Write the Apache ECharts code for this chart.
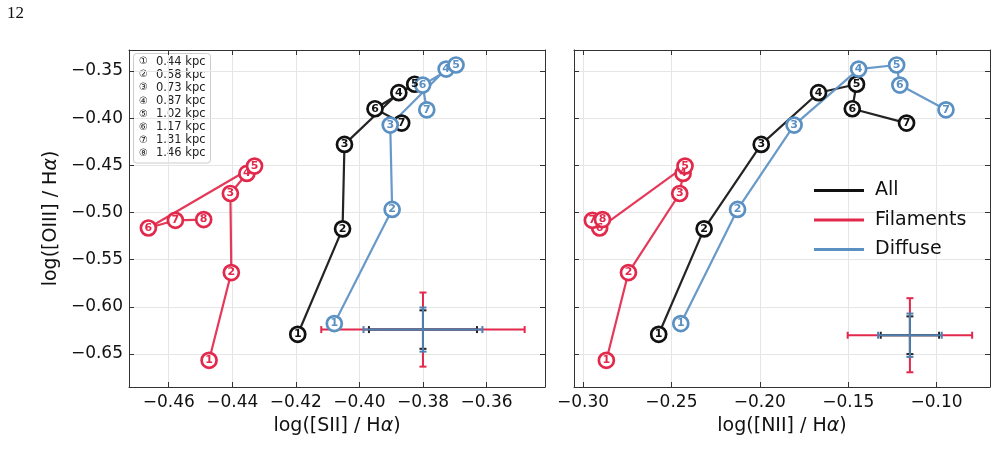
<!DOCTYPE html>
<html lang="en">
<head>
<meta charset="utf-8" />
<title>BPT radial tracks</title>
<script src="https://cdn.jsdelivr.net/npm/echarts@6/dist/echarts.min.js"></script>
<style>
    html, body { margin: 0; padding: 0; background: #fff; }
    #main { width: 998px; height: 464px; }
</style>
</head>
<body>
<div id="main"></div>
<script>
// radial bins (kpc)
var radiiKpc = ['0.44', '0.58', '0.73', '0.87', '1.02', '1.17', '1.31', '1.46'];
var circled = ['①', '②', '③', '④', '⑤', '⑥', '⑦', '⑧'];

// All
var allSII  = [-0.4194, -0.4053, -0.4047, -0.3876, -0.3826, -0.3951, -0.3867];
var allNII  = [-0.2572, -0.2315, -0.1992, -0.1668, -0.1453, -0.1477, -0.1170];
var allOIII = [-0.6292, -0.5174, -0.4278, -0.3730, -0.3640, -0.3900, -0.4052];
// Filaments
var filSII  = [-0.4473, -0.4403, -0.4406, -0.4354, -0.4330, -0.4664, -0.4579, -0.4490];
var filNII  = [-0.2868, -0.2743, -0.2453, -0.2434, -0.2423, -0.2906, -0.2947, -0.2890];
var filOIII = [-0.6568, -0.5637, -0.4799, -0.4586, -0.4508, -0.5165, -0.5083, -0.5075];
// Diffuse
var difSII  = [-0.4079, -0.3897, -0.3903, -0.3727, -0.3696, -0.3801, -0.3788];
var difNII  = [-0.2447, -0.2126, -0.1806, -0.1441, -0.1226, -0.1208, -0.0947];
var difOIII = [-0.6178, -0.4968, -0.4073, -0.3479, -0.3436, -0.3649, -0.3911];

// typical errors: [center x, center y] and [xerr, yerr]
var errCenterS = [-0.38, -0.6242];
var errCenterN = [-0.1151, -0.6302];
var errFilS = [0.0320, 0.0393], errAllS = [0.0170, 0.0204], errDifS = [0.0187, 0.0234];
var errFilN = [0.0352, 0.0393], errAllN = [0.0165, 0.0200], errDifN = [0.0180, 0.0230];

// ticks
var ticksSII  = [-0.46, -0.44, -0.42, -0.40, -0.38, -0.36];
var ticksNII  = [-0.30, -0.25, -0.20, -0.15, -0.10];
var ticksOIII = [-0.65, -0.60, -0.55, -0.50, -0.45, -0.40, -0.35];

var RED = '#e2284b', BLUE = '#5b90c3', BLACK = '#111111';
var FONT = 'DejaVu Sans';

var myChart = echarts.init(document.getElementById('main'));

function fmt(v) {
    return (v < 0 ? '\u2212' : '') + Math.abs(v).toFixed(2);
}

function xAxisDef(grid, pos, ticks, min, max, name) {
    var a = {
        type: 'value', gridIndex: grid, position: pos, min: min, max: max,
        axisLine: { show: true, onZero: false, lineStyle: { color: '#333', width: 1 } },
        axisTick: { show: true, inside: true, length: 5, customValues: ticks, lineStyle: { color: '#333' } },
        axisLabel: { show: pos === 'bottom', customValues: ticks, margin: 7, formatter: fmt,
            fontSize: 17, fontFamily: FONT, color: '#111' },
        splitLine: { show: pos === 'bottom', customValues: ticks, lineStyle: { color: '#e6e6e6', width: 1 } }
    };
    if (name) {
        a.name = name;
        a.nameLocation = 'middle';
        a.nameGap = 30;
        a.nameTextStyle = { fontSize: 19, fontFamily: FONT, color: '#111',
            rich: { a: { fontSize: 19, fontFamily: FONT, fontStyle: 'italic', color: '#111' } } };
    }
    return a;
}

function yAxisDef(grid, pos, labels, name) {
    var a = {
        type: 'value', gridIndex: grid, position: pos, min: -0.6851, max: -0.3277,
        axisLine: { show: true, onZero: false, lineStyle: { color: '#333', width: 1 } },
        axisTick: { show: true, inside: true, length: 5, customValues: ticksOIII, lineStyle: { color: '#333' } },
        axisLabel: { show: labels, customValues: ticksOIII, margin: 6, formatter: fmt,
            fontSize: 17, fontFamily: FONT, color: '#111' },
        splitLine: { show: pos === 'left', customValues: ticksOIII, lineStyle: { color: '#e6e6e6', width: 1 } }
    };
    if (name) {
        a.name = name;
        a.nameLocation = 'middle';
        a.nameGap = 68;
        a.nameTextStyle = { fontSize: 19, fontFamily: FONT, color: '#111',
            rich: { a: { fontSize: 19, fontFamily: FONT, fontStyle: 'italic', color: '#111' } } };
    }
    return a;
}

function track(name, xs, ys, color, xi, yi) {
    var pts = xs.map(function (x, i) { return [x, ys[i]]; });
    return {
        name: name, type: 'line', xAxisIndex: xi, yAxisIndex: yi, data: pts,
        symbol: 'circle', symbolSize: 15, showSymbol: true,
        lineStyle: { color: color, width: 2.2, opacity: 0.92 },
        itemStyle: { color: '#fff', borderColor: color, borderWidth: 2.7 },
        label: { show: true, position: 'inside', color: color, fontSize: 11, fontWeight: 'bold',
            fontFamily: FONT, formatter: function (p) { return p.dataIndex + 1; } },
        emphasis: { disabled: true }, silent: true, z: 3
    };
}

function errRender(color) {
    return function (params, api) {
        var cx = api.value(0), cy = api.value(1), ex = api.value(2), ey = api.value(3);
        var l = api.coord([cx - ex, cy]), r = api.coord([cx + ex, cy]);
        var t = api.coord([cx, cy + ey]), b = api.coord([cx, cy - ey]);
        var c = 3.5;
        var st = { stroke: color, lineWidth: 2 };
        return {
            type: 'group', children: [
                { type: 'line', shape: { x1: l[0], y1: l[1], x2: r[0], y2: r[1] }, style: st },
                { type: 'line', shape: { x1: t[0], y1: t[1], x2: b[0], y2: b[1] }, style: st },
                { type: 'line', shape: { x1: l[0], y1: l[1] - c, x2: l[0], y2: l[1] + c }, style: st },
                { type: 'line', shape: { x1: r[0], y1: r[1] - c, x2: r[0], y2: r[1] + c }, style: st },
                { type: 'line', shape: { x1: t[0] - c, y1: t[1], x2: t[0] + c, y2: t[1] }, style: st },
                { type: 'line', shape: { x1: b[0] - c, y1: b[1], x2: b[0] + c, y2: b[1] }, style: st }
            ]
        };
    };
}

function errSeries(center, err, color, xi, yi) {
    return {
        type: 'custom', xAxisIndex: xi, yAxisIndex: yi, silent: true, z: 2,
        renderItem: errRender(color), encode: { x: 0, y: 1 },
        data: [[center[0], center[1], err[0], err[1]]]
    };
}

// kpc key in left panel
var keyTop = 61.7, keyStep = 13.1;
var keyChildren = [{
    type: 'rect', shape: { x: 133.5, y: 53.5, width: 77, height: 109.5, r: 3 },
    style: { fill: 'rgba(255,255,255,0.85)', stroke: '#cccccc', lineWidth: 1 }
}];
radiiKpc.forEach(function (r, i) {
    keyChildren.push({
        type: 'text', x: 143.5, y: keyTop + i * keyStep,
        style: { text: circled[i], fontSize: 10, fontFamily: FONT, fill: '#222', align: 'center', verticalAlign: 'middle' }
    });
    keyChildren.push({
        type: 'text', x: 156, y: keyTop + i * keyStep,
        style: { text: r + ' kpc', fontSize: 11.5, fontFamily: FONT, fill: '#222', align: 'left', verticalAlign: 'middle' }
    });
});

var option = {
    animation: false,
    backgroundColor: '#fff',
    grid: [
        { left: 129, top: 50, width: 416, height: 337 },
        { left: 574, top: 50, width: 416, height: 337 }
    ],
    xAxis: [
        xAxisDef(0, 'bottom', ticksSII, -0.4725, -0.3416, 'log([SII] / H{a|α})'),
        xAxisDef(0, 'top', ticksSII, -0.4725, -0.3416, null),
        xAxisDef(1, 'bottom', ticksNII, -0.3051, -0.0698, 'log([NII] / H{a|α})'),
        xAxisDef(1, 'top', ticksNII, -0.3051, -0.0698, null)
    ],
    yAxis: [
        yAxisDef(0, 'left', true, 'log([OIII] / H{a|α})'),
        yAxisDef(0, 'right', false, null),
        yAxisDef(1, 'left', false, null),
        yAxisDef(1, 'right', false, null)
    ],
    legend: {
        left: 809, top: 176, orient: 'vertical', itemWidth: 50, itemHeight: 3, itemGap: 10.5,
        selectedMode: false,
        textStyle: { fontSize: 19, fontFamily: FONT, color: '#111', padding: [0, 0, 0, 6] },
        data: [
            { name: 'All', icon: 'rect', itemStyle: { color: BLACK, borderWidth: 0 } },
            { name: 'Filaments', icon: 'rect', itemStyle: { color: RED, borderWidth: 0 } },
            { name: 'Diffuse', icon: 'rect', itemStyle: { color: BLUE, borderWidth: 0 } }
        ]
    },
    graphic: [
        { type: 'text', left: 7, top: 5, style: { text: '12', fontSize: 17, fontFamily: 'Liberation Serif', fill: '#111' } },
        { type: 'group', children: keyChildren }
    ],
    series: [
        errSeries(errCenterS, errFilS, RED, 0, 0),
        errSeries(errCenterS, errAllS, '#222', 0, 0),
        errSeries(errCenterS, errDifS, '#4f80b2', 0, 0),
        errSeries(errCenterN, errFilN, RED, 2, 2),
        errSeries(errCenterN, errAllN, '#222', 2, 2),
        errSeries(errCenterN, errDifN, '#4f80b2', 2, 2),
        track('Filaments', filSII, filOIII, RED, 0, 0),
        track('All', allSII, allOIII, BLACK, 0, 0),
        track('Diffuse', difSII, difOIII, BLUE, 0, 0),
        track('Filaments', filNII, filOIII, RED, 2, 2),
        track('All', allNII, allOIII, BLACK, 2, 2),
        track('Diffuse', difNII, difOIII, BLUE, 2, 2)
    ]
};
myChart.setOption(option, true);
</script>
</body>
</html>
